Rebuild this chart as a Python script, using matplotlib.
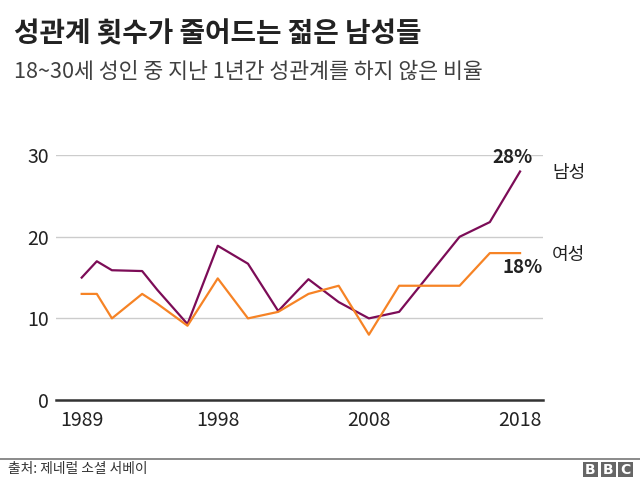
import matplotlib
matplotlib.use('Agg')
import matplotlib.pyplot as plt
from matplotlib.patches import Rectangle

plt.rcParams['font.family'] = ['Noto Sans CJK KR', 'DejaVu Sans']

# GSS survey years and share (%) of 18-30 year olds with no sex in past year
men_years = [1989, 1990, 1991, 1993, 1994, 1996, 1998, 2000, 2002, 2004,
             2006, 2008, 2010, 2014, 2016, 2018]
men_values = [15, 17, 15.9, 15.8, 13.5, 9.3, 18.9, 16.7, 10.9, 14.8,
              12, 10, 10.8, 20, 21.8, 28]

women_years = [1989, 1990, 1991, 1993, 1994, 1996, 1998, 2000, 2002, 2004,
               2006, 2008, 2010, 2014, 2016, 2018]
women_values = [13, 13, 10, 13, 11.8, 9.1, 14.9, 10, 10.8, 13,
                14, 8, 14, 14, 18, 18]

y_ticks = [0, 10, 20, 30]
x_ticks = [1989, 1998, 2008, 2018]

MEN_COLOR = '#7c0c57'
WOMEN_COLOR = '#f68325'
TEXT_COLOR = '#222222'

fig = plt.figure(figsize=(6.4, 4.8), dpi=100)
ax = fig.add_axes([0.0875, 0.1667, 0.761, 0.510])

ax.plot(men_years, men_values, color=MEN_COLOR, linewidth=1.6, clip_on=False, zorder=3)
ax.plot(women_years, women_values, color=WOMEN_COLOR, linewidth=1.6, clip_on=False, zorder=3)

ax.set_xlim(1987.3, 2019.52)
ax.set_ylim(0, 30)
ax.set_yticks(y_ticks)
ax.set_xticks(x_ticks)
ax.tick_params(axis='both', length=0, labelsize=14, colors=TEXT_COLOR)
ax.tick_params(axis='y', pad=5)
ax.tick_params(axis='x', pad=7)

ax.grid(axis='y', color='#cccccc', linewidth=1)
ax.set_axisbelow(True)
for side in ['top', 'right', 'left']:
    ax.spines[side].set_visible(False)
ax.spines['bottom'].set_color('#333333')
ax.spines['bottom'].set_linewidth(1.8)
ax.spines['bottom'].set_zorder(4)

# end labels
ax.annotate('28%', (men_years[-1], men_values[-1]), xytext=(-8, 14),
            textcoords='offset pixels', ha='center', va='center',
            fontsize=13.5, fontweight='bold', color=TEXT_COLOR)
ax.annotate('18%', (women_years[-1], women_values[-1]), xytext=(3, -14),
            textcoords='offset pixels', ha='center', va='center',
            fontsize=13.5, fontweight='bold', color=TEXT_COLOR)
fig.text(552 / 640, 1 - 173 / 480, '남성', ha='left', va='center', fontsize=13, color=TEXT_COLOR)
fig.text(552 / 640, 1 - 255 / 480, '여성', ha='left', va='center', fontsize=13, color=TEXT_COLOR)

# titles
fig.text(14 / 640, 1 - 34 / 480, '성관계 횟수가 줄어드는 젊은 남성들', ha='left', va='center',
         fontsize=20, fontweight='bold', color=TEXT_COLOR)
fig.text(14 / 640, 1 - 72 / 480, '18~30세 성인 중 지난 1년간 성관계를 하지 않은 비율',
         ha='left', va='center', fontsize=15.6, color='#404040')

# footer
fig.add_artist(plt.Line2D([0, 1], [1 - 459 / 480] * 2, color='#777777', linewidth=1.2))
fig.text(8 / 640, 1 - 469 / 480, '출처: 제네럴 소셜 서베이', ha='left', va='center',
         fontsize=9.9, color='#333333')
for i, letter in enumerate('BBC'):
    x0 = (583 + i * 17.5) / 640
    fig.add_artist(Rectangle((x0, 1 - 477 / 480), 15 / 640, 15.5 / 480,
                             transform=fig.transFigure, facecolor='#666666', edgecolor='none'))
    fig.text(x0 + 7.5 / 640, 1 - 469.5 / 480, letter, ha='center', va='center',
             fontsize=10, fontweight='bold', color='white', family='DejaVu Sans')

fig.savefig('out.png', dpi=100)
